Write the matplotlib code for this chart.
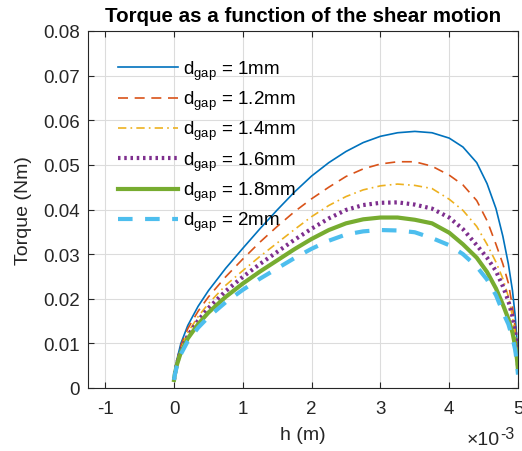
import matplotlib
matplotlib.use('Agg')
import matplotlib.pyplot as plt
from matplotlib.ticker import FuncFormatter

plt.rcParams["font.family"] = ["Liberation Sans", "DejaVu Sans"]
plt.rcParams["mathtext.fontset"] = "custom"
plt.rcParams["mathtext.rm"] = "Liberation Sans"
plt.rcParams["mathtext.it"] = "Liberation Sans"

# h positions (mm), converted to m below
h_mm = [0, 0.01, 0.04, 0.1, 0.2, 0.35, 0.5, 0.75, 1, 1.25, 1.5, 1.75, 2, 2.25, 2.5, 2.75,
        3, 3.25, 3.5, 3.75, 4, 4.2, 4.4, 4.55, 4.68, 4.78, 4.86, 4.92, 4.96, 4.985, 5.0]
h = [v * 1e-3 for v in h_mm]

# torque (Nm) for each gap
torque_1mm = [0.0018, 0.0033, 0.0062, 0.0100, 0.0140, 0.0183, 0.0218, 0.0268, 0.0313, 0.0357,
              0.0399, 0.0439, 0.0475, 0.0505, 0.0530, 0.0550, 0.0564, 0.0572, 0.0575, 0.0572,
              0.0560, 0.0540, 0.0505, 0.0458, 0.0402, 0.0340, 0.0278, 0.0218, 0.0160, 0.0105, 0.0075]
torque_1_2mm = [0.0018, 0.0032, 0.0059, 0.0095, 0.0133, 0.0172, 0.0204, 0.0249, 0.0289, 0.0327,
                0.0362, 0.0395, 0.0424, 0.0450, 0.0474, 0.0491, 0.0502, 0.0507, 0.0507, 0.0497,
                0.0477, 0.0455, 0.0420, 0.0375, 0.0322, 0.0278, 0.0235, 0.0182, 0.0134, 0.0088, 0.0065]
torque_1_4mm = [0.0018, 0.0031, 0.0056, 0.0089, 0.0124, 0.0160, 0.0189, 0.0230, 0.0263, 0.0295,
                0.0325, 0.0355, 0.0384, 0.0409, 0.0429, 0.0444, 0.0453, 0.0457, 0.0454, 0.0447,
                0.0423, 0.0398, 0.0362, 0.0322, 0.0282, 0.0245, 0.0205, 0.0160, 0.0120, 0.0085, 0.0060]
torque_1_6mm = [0.0018, 0.0030, 0.0053, 0.0084, 0.0117, 0.0151, 0.0179, 0.0217, 0.0249, 0.0278,
                0.0305, 0.0332, 0.0357, 0.0380, 0.0399, 0.0410, 0.0415, 0.0416, 0.0411, 0.0402,
                0.0382, 0.0356, 0.0320, 0.0292, 0.0262, 0.0228, 0.0195, 0.0160, 0.0125, 0.0088, 0.0050]
torque_1_8mm = [0.0018, 0.0029, 0.0051, 0.0080, 0.0111, 0.0143, 0.0169, 0.0204, 0.0234, 0.0261,
                0.0286, 0.0311, 0.0334, 0.0354, 0.0369, 0.0378, 0.0382, 0.0382, 0.0377, 0.0369,
                0.0348, 0.0322, 0.0292, 0.0260, 0.0223, 0.0187, 0.0155, 0.0124, 0.0093, 0.0065, 0.0040]
torque_2mm = [0.0018, 0.0028, 0.0048, 0.0076, 0.0105, 0.0135, 0.0159, 0.0192, 0.0220, 0.0245,
              0.0268, 0.0291, 0.0312, 0.0330, 0.0344, 0.0351, 0.0354, 0.0353, 0.0349, 0.0336,
              0.0320, 0.0300, 0.0272, 0.0243, 0.0208, 0.0170, 0.0143, 0.0112, 0.0085, 0.0055, 0.0030]

gap_labels = ['1mm', '1.2mm', '1.4mm', '1.6mm', '1.8mm', '2mm']
series = [torque_1mm, torque_1_2mm, torque_1_4mm, torque_1_6mm, torque_1_8mm, torque_2mm]

# matlab default colours and line styles
colors = ['#0072BD', '#D95319', '#EDB120', '#7E2F8E', '#77AC30', '#4DBEEE']
styles = ['-', (0, (6, 4)), (0, (5, 2.5, 1, 2.5)), (0, (0.6, 0.9)), '-', (0, (3.5, 3))]
widths = [1.2, 1.2, 1.2, 3.0, 3.0, 3.0]

fig = plt.figure(figsize=(5.22, 4.52), dpi=100)
ax = fig.add_axes([88 / 522, 1 - 389 / 452, 430 / 522, 357 / 452])

for vals, lab, c, ls, lw in zip(series, gap_labels, colors, styles, widths):
    ax.plot(h, vals, color=c, linestyle=ls, linewidth=lw, label=r'd$_{\mathrm{gap}}$ = ' + lab)

ax.set_xlim(-1.25e-3, 5e-3)
ax.set_ylim(0, 0.08)
ax.set_xticks([i * 1e-3 for i in range(-1, 6)])
ax.set_yticks([i * 0.01 for i in range(0, 9)])
ax.xaxis.set_major_formatter(FuncFormatter(lambda v, p: '%d' % round(v * 1e3)))
ax.yaxis.set_major_formatter(FuncFormatter(lambda v, p: '0' if abs(v) < 1e-9 else '%.2f' % v))

ax.grid(True, color='#dcdcdc', linewidth=0.8)
ax.set_axisbelow(True)
for sp in ax.spines.values():
    sp.set_color('#262626')
    sp.set_linewidth(0.8)
ax.tick_params(direction='in', top=True, right=True, labelsize=13.5, colors='#262626',
               length=4, width=0.8)
ax.tick_params(axis='x', pad=9)
ax.tick_params(axis='y', pad=6)

ax.set_title('Torque as a function of the shear motion', fontsize=14.8, fontweight='bold', pad=7)
ax.set_xlabel('h (m)', fontsize=14, color='#262626', labelpad=6)
ax.set_ylabel('Torque (Nm)', fontsize=14, color='#262626', labelpad=8)

# exponent of the x axis, placed like matlab does
fig.text(500 / 522, 1 - 445 / 452, '\u00d710', ha='right', va='baseline',
         fontsize=14, color='#262626')
fig.text(500 / 522, 1 - 439 / 452, '-3', ha='left', va='baseline',
         fontsize=11.5, color='#262626')

leg = ax.legend(loc='upper left', frameon=False, fontsize=13.5, handlelength=3.2,
                handletextpad=0.3, labelspacing=0.38, bbox_to_anchor=(0.03, 0.97))

fig.savefig('out.png', dpi=100)
